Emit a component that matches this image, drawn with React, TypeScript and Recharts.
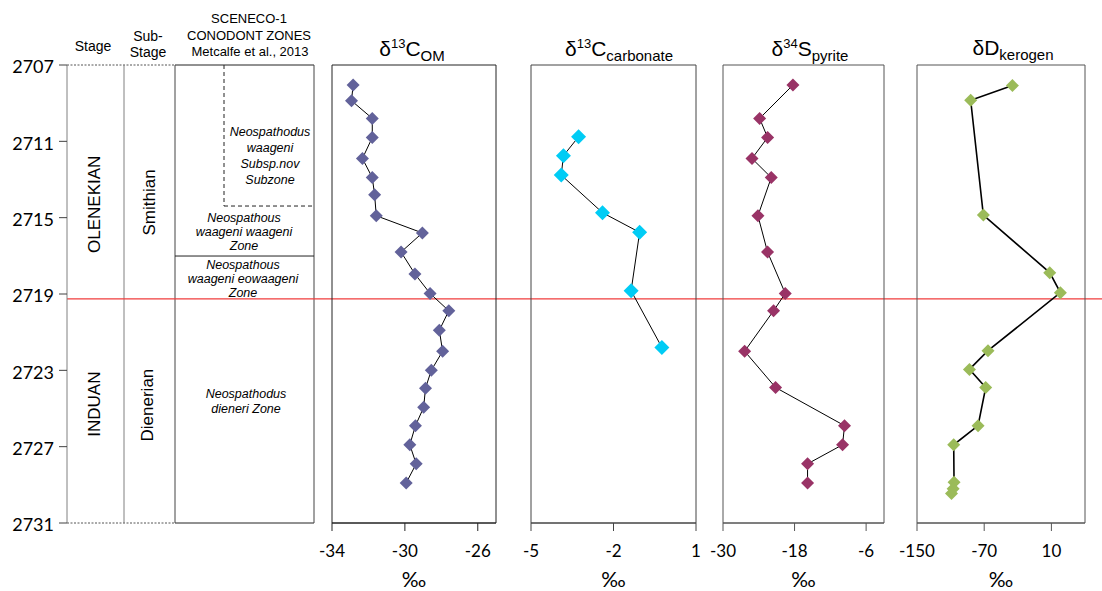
import React from "react";
import { ScatterChart, Scatter, XAxis, YAxis, ReferenceLine, ReferenceArea, ReferenceDot } from "recharts";

// depth axis (m), shared by every column
const DEPTH_DOMAIN: [number, number] = [2707, 2731];
const DEPTH_TICKS = [2707, 2711, 2715, 2719, 2723, 2727, 2731];
const STAGE_BOUNDARY = 2719.26;
const ZONE_BOUNDARY = 2717.01;
const SUBZONE_BASE = 2714.39;

// d13C organic matter
const omDepth = [2708.05, 2708.87, 2709.8, 2710.8, 2711.9, 2712.9, 2713.8, 2714.9, 2715.8, 2716.8, 2717.95, 2718.97, 2719.88, 2720.9, 2722.0, 2723.0, 2723.94, 2724.94, 2725.9, 2726.9, 2727.9, 2728.9];
const omValue = [-32.84, -32.93, -31.79, -31.79, -32.33, -31.79, -31.66, -31.57, -29.04, -30.21, -29.45, -28.62, -27.59, -28.11, -27.93, -28.55, -28.87, -28.97, -29.42, -29.73, -29.38, -29.93];

// d13C carbonate
const carbDepth = [2710.76, 2711.75, 2712.77, 2714.74, 2715.77, 2718.83, 2721.8];
const carbValue = [-3.27, -3.82, -3.9, -2.4, -1.05, -1.36, -0.24];

// d34S pyrite
const pyDepth = [2708.05, 2709.8, 2710.8, 2711.9, 2712.9, 2714.9, 2716.8, 2718.97, 2719.88, 2722.0, 2723.9, 2725.9, 2726.9, 2727.9, 2728.9];
const pyValue = [-18.27, -23.86, -22.52, -25.14, -21.91, -24.14, -22.53, -19.56, -21.52, -26.37, -21.18, -9.62, -9.95, -15.82, -15.82];

// dD kerogen
const kerDepth = [2708.08, 2708.85, 2714.86, 2717.88, 2718.93, 2721.97, 2722.95, 2723.9, 2725.9, 2726.9, 2728.87, 2729.2, 2729.45];
const kerValue = [-36.4, -86.1, -71.0, 8.0, 20.7, -65.5, -87.6, -68.2, -77.3, -106.3, -105.9, -107.0, -108.9];

// stratigraphy labels
const stageLabels = [
  { text: "OLENEKIAN", col: 28, depth: 2714.3 },
  { text: "Smithian", col: 82.5, depth: 2714.2 },
  { text: "INDUAN", col: 28, depth: 2724.77 },
  { text: "Dienerian", col: 81, depth: 2724.82 },
];
const zoneLabels = [
  { lines: ["Neospathodus", "waageni", "Subsp.nov", "Subzone"], col: 203, depth: 2711.77, lh: 16 },
  { lines: ["Neospathous", "waageni waageni", "Zone"], col: 177, depth: 2715.75, lh: 14 },
  { lines: ["Neospathous", "waageni eowaageni", "Zone"], col: 176, depth: 2718.22, lh: 14 },
  { lines: ["Neospathodus", "dieneri Zone"], col: 179, depth: 2724.64, lh: 15 },
];

// column edges of the stratigraphy block (offset from the depth axis)
const COL = { stage: 0, sub: 57, zone: 108, subzone: 157, end: 247, full: 1035 };

const SANS = "'Liberation Sans', Arial, sans-serif";
const NUM = "Lato, 'Liberation Sans', sans-serif";

const toPoints = (depth: number[], value: number[]) => depth.map((d, i) => ({ d, v: value[i] }));

const RotLabel = (props: any) => {
  const { viewBox, text } = props;
  const x = viewBox.x;
  const y = viewBox.y;
  return (
    <text x={x} y={y} transform={`rotate(-90 ${x} ${y})`} textAnchor="middle" dominantBaseline="central"
      fontFamily={SANS} fontSize={17} fill="#000">
      {text}
    </text>
  );
};

const StackLabel = (props: any) => {
  const { viewBox, lines, lh } = props;
  const x = viewBox.x;
  const y0 = viewBox.y - ((lines.length - 1) * lh) / 2;
  return (
    <text textAnchor="middle" fontFamily={SANS} fontSize={12.5} fontStyle="italic" fill="#000">
      {lines.map((l: string, i: number) => (
        <tspan key={i} x={x} y={y0 + i * lh} dominantBaseline="central">{l}</tspan>
      ))}
    </text>
  );
};

const diamond = (r: number, fill: string) => (p: any) => (
  <path d={`M${p.cx},${p.cy - r}L${p.cx + r},${p.cy}L${p.cx},${p.cy + r}L${p.cx - r},${p.cy}Z`} fill={fill} />
);

interface PanelProps {
  left: number;
  width: number;
  domain: [number, number];
  ticks: number[];
  data: { d: number; v: number }[];
  color: string;
  r: number;
  lineWidth: number;
  border: string;
}

const Panel = ({ left, width, domain, ticks, data, color, r, lineWidth, border }: PanelProps) => (
  <div style={{ position: "absolute", left: left - 30, top: 0 }}>
    <ScatterChart width={width + 60} height={591} margin={{ top: 65, right: 30, bottom: 0, left: 30 }}>
      <XAxis type="number" dataKey="v" domain={domain} ticks={ticks} interval={0} allowDataOverflow
        height={68} tickSize={8} tickMargin={14}
        axisLine={{ stroke: border }} tickLine={{ stroke: border }}
        tick={{ fontSize: 17, fill: "#000", fontFamily: NUM }}
        label={{ value: "‰", position: "insideBottom", offset: 4, fontSize: 21, fill: "#000", fontFamily: NUM }} />
      <YAxis type="number" dataKey="d" domain={DEPTH_DOMAIN} reversed hide allowDataOverflow />
      <ReferenceArea x1={domain[0]} x2={domain[1]} y1={DEPTH_DOMAIN[0]} y2={DEPTH_DOMAIN[1]}
        fill="none" stroke={border} strokeWidth={1} ifOverflow="visible" />
      <Scatter data={data} shape={diamond(r, color)} line={{ stroke: "#000", strokeWidth: lineWidth }}
        lineType="joint" isAnimationActive={false} />
    </ScatterChart>
  </div>
);

const Title = ({ x, base, sup, sub }: { x: number; base: [string, string]; sup?: string; sub: string }) => (
  <div style={{ position: "absolute", left: x, top: 37, transform: "translateX(-50%)", fontFamily: SANS,
    fontSize: 21, lineHeight: 1, whiteSpace: "nowrap", color: "#000" }}>
    {base[0]}
    {sup && <span style={{ fontSize: 13, verticalAlign: 8 }}>{sup}</span>}
    {base[1]}
    <span style={{ fontSize: 15, verticalAlign: -5 }}>{sub}</span>
  </div>
);

const Head = ({ x, y, text, size = 13 }: { x: number; y: number; text: string; size?: number }) => (
  <div style={{ position: "absolute", left: x, top: y, transform: "translate(-50%, -50%)", fontFamily: SANS,
    fontSize: size, lineHeight: 1, whiteSpace: "nowrap", color: "#000" }}>
    {text}
  </div>
);

export default function App() {
  const dotted = { stroke: "#555", strokeDasharray: "2 1.5" };
  return (
    <div style={{ position: "absolute", left: 0, top: 0, width: 1102, height: 591, background: "#fff" }}>
      <div style={{ position: "absolute", left: 0, top: 0 }}>
        <ScatterChart width={1102} height={591} margin={{ top: 65, right: 0, bottom: 68, left: 0 }}>
          <XAxis type="number" dataKey="x" domain={[COL.stage, COL.full]} hide allowDataOverflow />
          <YAxis type="number" dataKey="y" domain={DEPTH_DOMAIN} ticks={DEPTH_TICKS} interval={0} reversed
            allowDataOverflow width={67} tickSize={8} tickMargin={5}
            axisLine={{ stroke: "#808080" }} tickLine={{ stroke: "#404040" }}
            tick={{ fontSize: 18, fill: "#000", fontFamily: NUM, dy: 2 }} />
          {/* column frame */}
          <ReferenceLine segment={[{ x: COL.stage, y: 2707 }, { x: COL.zone, y: 2707 }]} {...dotted} />
          <ReferenceLine segment={[{ x: COL.stage, y: 2731 }, { x: COL.zone, y: 2731 }]} {...dotted} />
          <ReferenceLine segment={[{ x: COL.zone, y: 2707 }, { x: COL.end, y: 2707 }]} stroke="#222" />
          <ReferenceLine segment={[{ x: COL.zone, y: 2731 }, { x: COL.end, y: 2731 }]} stroke="#222" />
          <ReferenceLine x={COL.sub} stroke="#808080" />
          <ReferenceLine x={COL.zone} stroke="#444" />
          <ReferenceLine x={COL.end} stroke="#444" />
          <ReferenceLine segment={[{ x: COL.subzone, y: 2707 }, { x: COL.subzone, y: SUBZONE_BASE }]}
            stroke="#222" strokeDasharray="4 3" />
          <ReferenceLine segment={[{ x: COL.subzone, y: SUBZONE_BASE }, { x: COL.end, y: SUBZONE_BASE }]}
            stroke="#222" strokeDasharray="4 3" />
          <ReferenceLine segment={[{ x: COL.zone, y: ZONE_BOUNDARY }, { x: COL.end, y: ZONE_BOUNDARY }]} stroke="#222" />
          {stageLabels.map((s) => (
            <ReferenceDot key={s.text} x={s.col} y={s.depth} r={0} fill="none" stroke="none"
              label={<RotLabel text={s.text} />} />
          ))}
          {zoneLabels.map((z, i) => (
            <ReferenceDot key={i} x={z.col} y={z.depth} r={0} fill="none" stroke="none"
              label={<StackLabel lines={z.lines} lh={z.lh} />} />
          ))}
          <ReferenceLine y={STAGE_BOUNDARY} stroke="#f03c3c" strokeWidth={1.2} />
        </ScatterChart>
      </div>

      <Head x={93} y={46} text="Stage" size={14} />
      <Head x={148} y={36} text="Sub-" size={14} />
      <Head x={148} y={52} text="Stage" size={14} />
      <Head x={249} y={18} text="SCENECO-1" />
      <Head x={249} y={35} text="CONODONT ZONES" />
      <Head x={250} y={51} text="Metcalfe et al., 2013" />

      <Title x={412} base={["δ", "C"]} sup="13" sub="OM" />
      <Title x={619} base={["δ", "C"]} sup="13" sub="carbonate" />
      <Title x={810} base={["δ", "S"]} sup="34" sub="pyrite" />
      <Title x={1013} base={["δ", "D"]} sub="kerogen" />

      <Panel left={332} width={164} domain={[-34, -25]} ticks={[-34, -30, -26]} data={toPoints(omDepth, omValue)}
        color="#62629a" r={6.5} lineWidth={1} border="#222" />
      <Panel left={531} width={165} domain={[-5, 1]} ticks={[-5, -2, 1]} data={toPoints(carbDepth, carbValue)}
        color="#00ccf5" r={7.5} lineWidth={1} border="#444" />
      <Panel left={723} width={161} domain={[-30, -3]} ticks={[-30, -18, -6]} data={toPoints(pyDepth, pyValue)}
        color="#993366" r={6.5} lineWidth={1} border="#555" />
      <Panel left={917} width={168} domain={[-150, 50]} ticks={[-150, -70, 10]} data={toPoints(kerDepth, kerValue)}
        color="#9bbb59" r={6.5} lineWidth={1.6} border="#555" />
    </div>
  );
}
